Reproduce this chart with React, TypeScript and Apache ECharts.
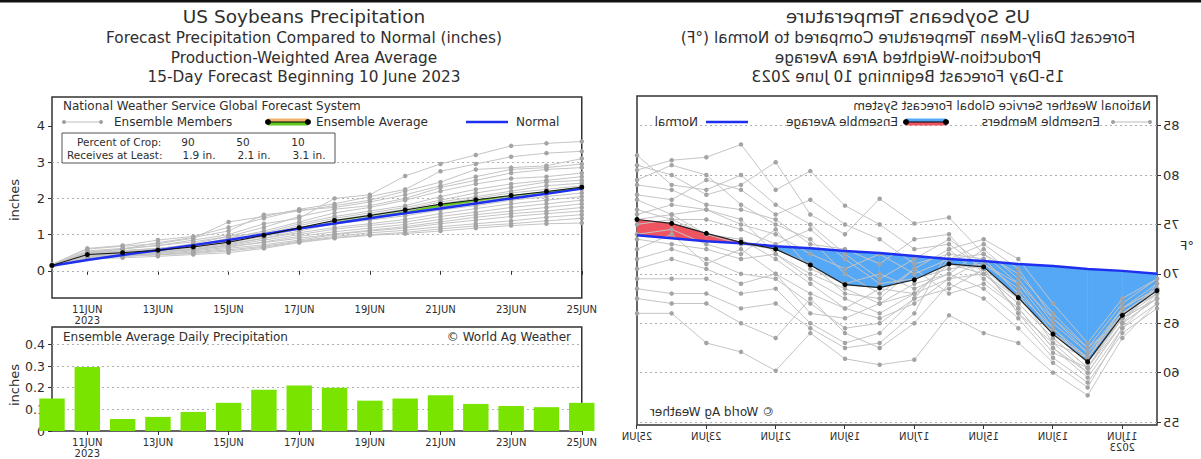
import React, { useEffect, useRef } from "react";
import * as echarts from "echarts";

const FONT = "DejaVu Sans, sans-serif";

const DAYS = ["10JUN", "11JUN", "12JUN", "13JUN", "14JUN", "15JUN", "16JUN", "17JUN", "18JUN", "19JUN", "20JUN", "21JUN", "22JUN", "23JUN", "24JUN", "25JUN"];
const YEAR = "2023";

// ---------- Precipitation (left panel) ----------
const PRECIP_DAILY = [0.15, 0.295, 0.055, 0.065, 0.088, 0.13, 0.19, 0.21, 0.2, 0.14, 0.15, 0.165, 0.125, 0.115, 0.11, 0.13];
const PRECIP_AVG = [0.15, 0.45, 0.5, 0.57, 0.66, 0.79, 0.98, 1.19, 1.39, 1.53, 1.68, 1.84, 1.96, 2.08, 2.19, 2.31];
const PRECIP_NORMAL = [0.14, 0.3, 0.44, 0.57, 0.71, 0.85, 1.01, 1.17, 1.31, 1.45, 1.59, 1.72, 1.86, 2.0, 2.13, 2.27];
const PRECIP_MEMBERS = [
  [0.15, 0.55, 0.62, 0.7, 0.85, 1.0, 1.3, 1.45, 2.0, 2.1, 2.62, 2.95, 3.2, 3.45, 3.52, 3.57],
  [0.16, 0.6, 0.68, 0.75, 0.9, 1.35, 1.5, 1.7, 1.85, 2.05, 2.25, 2.75, 2.95, 3.15, 3.25, 3.3],
  [0.14, 0.5, 0.6, 0.78, 0.92, 1.1, 1.55, 1.65, 1.8, 1.95, 2.2, 2.45, 2.8, 2.85, 2.9, 3.1],
  [0.18, 0.62, 0.7, 0.85, 0.95, 1.2, 1.45, 1.68, 1.75, 1.9, 2.1, 2.35, 2.6, 2.8, 2.85, 2.95],
  [0.13, 0.45, 0.52, 0.6, 0.75, 0.95, 1.2, 1.5, 1.7, 1.8, 2.0, 2.3, 2.5, 2.7, 2.8, 2.85],
  [0.15, 0.48, 0.55, 0.62, 0.7, 0.9, 1.1, 1.35, 1.6, 1.75, 1.95, 2.2, 2.4, 2.55, 2.6, 2.7],
  [0.16, 0.52, 0.6, 0.7, 0.8, 0.95, 1.05, 1.3, 1.5, 1.65, 1.8, 2.05, 2.25, 2.4, 2.5, 2.6],
  [0.14, 0.42, 0.48, 0.55, 0.65, 0.8, 1.0, 1.25, 1.45, 1.6, 1.75, 1.95, 2.15, 2.3, 2.45, 2.5],
  [0.15, 0.4, 0.5, 0.58, 0.68, 0.82, 0.95, 1.15, 1.4, 1.55, 1.7, 1.9, 2.05, 2.2, 2.35, 2.42],
  [0.17, 0.5, 0.56, 0.62, 0.72, 0.85, 1.0, 1.2, 1.35, 1.5, 1.65, 1.85, 2.0, 2.15, 2.25, 2.35],
  [0.13, 0.38, 0.45, 0.52, 0.6, 0.72, 0.9, 1.1, 1.3, 1.45, 1.6, 1.75, 1.9, 2.05, 2.15, 2.25],
  [0.15, 0.46, 0.52, 0.58, 0.66, 0.78, 0.95, 1.15, 1.3, 1.4, 1.52, 1.68, 1.8, 1.95, 2.05, 2.15],
  [0.14, 0.44, 0.5, 0.55, 0.62, 0.75, 0.9, 1.05, 1.2, 1.3, 1.42, 1.58, 1.72, 1.85, 1.95, 2.05],
  [0.16, 0.4, 0.45, 0.5, 0.58, 0.7, 0.85, 1.0, 1.15, 1.25, 1.35, 1.5, 1.62, 1.75, 1.85, 1.95],
  [0.12, 0.36, 0.42, 0.48, 0.55, 0.65, 0.8, 0.95, 1.08, 1.18, 1.28, 1.42, 1.55, 1.65, 1.75, 1.85],
  [0.15, 0.42, 0.47, 0.52, 0.58, 0.68, 0.78, 0.9, 1.02, 1.12, 1.22, 1.35, 1.48, 1.58, 1.65, 1.75],
  [0.14, 0.35, 0.4, 0.45, 0.52, 0.62, 0.72, 0.85, 1.0, 1.1, 1.18, 1.3, 1.4, 1.5, 1.58, 1.65],
  [0.13, 0.38, 0.42, 0.46, 0.5, 0.58, 0.68, 0.82, 0.95, 1.05, 1.12, 1.22, 1.3, 1.38, 1.48, 1.55],
  [0.16, 0.36, 0.4, 0.44, 0.48, 0.55, 0.65, 0.8, 0.92, 1.0, 1.06, 1.16, 1.24, 1.3, 1.38, 1.45],
  [0.15, 0.33, 0.36, 0.4, 0.45, 0.5, 0.62, 0.78, 0.9, 0.98, 1.03, 1.1, 1.18, 1.25, 1.3, 1.32],
];
const PRECIP_TICKS = [0, 1, 2, 3, 4];
const PRECIP_GRID = [0, 1, 2, 3];
const DAILY_TICKS = [0, 0.1, 0.2, 0.3, 0.4];
const DAILY_GRID = [0.1, 0.2, 0.3, 0.4];
const CROP_PERCENT = ["90", "50", "10"];
const CROP_AMOUNT = ["1.9 in.", "2.1 in.", "3.1 in."];

// ---------- Temperature (right panel) ----------
const TEMP_AVG = [68.3, 65.8, 61.1, 63.9, 67.6, 70.7, 71.0, 69.4, 68.6, 68.9, 70.9, 72.5, 73.2, 74.1, 75.1, 75.5];
const TEMP_NORMAL = [70.0, 70.3, 70.5, 70.8, 71.0, 71.3, 71.5, 71.8, 72.1, 72.3, 72.6, 72.8, 73.1, 73.3, 73.6, 73.9];
const TEMP_MEMBERS = [
  [68.5, 66.0, 60.5, 62.0, 66.0, 70.5, 73.0, 72.5, 75.0, 76.9, 80.4, 78.5, 83.1, 81.8, 81.5, 80.5],
  [69.0, 66.5, 61.5, 64.5, 69.0, 72.0, 75.7, 75.1, 77.6, 74.0, 76.0, 81.3, 79.0, 78.0, 80.0, 81.0],
  [67.5, 65.0, 60.0, 63.0, 68.0, 71.5, 72.0, 71.0, 73.5, 75.0, 77.5, 76.0, 78.5, 79.5, 77.5, 78.0],
  [68.0, 65.5, 61.0, 64.0, 67.5, 70.0, 74.0, 73.5, 71.0, 72.5, 73.0, 75.5, 76.5, 77.0, 78.5, 79.0],
  [69.5, 67.0, 62.5, 65.5, 70.5, 73.0, 71.5, 70.0, 72.0, 70.5, 72.0, 74.0, 75.0, 76.5, 76.0, 77.5],
  [68.0, 66.0, 61.5, 64.0, 68.5, 71.0, 70.5, 69.5, 69.0, 71.5, 74.5, 73.0, 74.5, 75.5, 75.5, 76.5],
  [67.0, 64.5, 59.5, 62.5, 66.5, 69.5, 72.5, 70.5, 67.5, 68.0, 71.0, 72.5, 73.0, 74.0, 75.5, 75.0],
  [68.5, 66.5, 62.0, 65.0, 69.5, 72.5, 70.0, 68.5, 70.0, 69.0, 70.5, 74.5, 72.0, 73.0, 74.5, 74.0],
  [69.0, 65.0, 60.5, 63.5, 67.0, 70.0, 71.0, 68.0, 66.0, 67.5, 69.5, 72.0, 71.5, 72.5, 73.0, 73.5],
  [67.5, 65.5, 61.0, 64.5, 68.0, 71.5, 69.5, 68.0, 68.5, 66.5, 68.0, 70.0, 72.5, 71.0, 74.0, 72.5],
  [68.0, 66.0, 61.5, 63.0, 66.0, 70.5, 68.5, 67.5, 65.0, 64.5, 67.0, 69.5, 70.0, 71.5, 72.5, 71.5],
  [66.5, 64.0, 59.0, 61.5, 65.5, 68.5, 70.0, 69.0, 67.0, 65.5, 66.0, 70.0, 69.0, 70.5, 71.5, 70.5],
  [68.5, 65.5, 62.5, 66.0, 70.0, 72.0, 71.5, 67.5, 64.0, 63.0, 65.0, 68.5, 68.0, 69.5, 69.5, 69.5],
  [69.5, 67.5, 63.0, 67.0, 71.5, 73.5, 72.5, 66.0, 63.0, 62.5, 64.5, 67.0, 66.5, 68.0, 68.0, 68.5],
  [68.0, 64.5, 58.5, 61.0, 64.5, 67.5, 69.0, 65.0, 62.5, 64.0, 67.5, 63.5, 65.0, 67.0, 67.0, 67.5],
  [67.0, 63.5, 57.7, 60.0, 63.0, 64.0, 65.8, 61.3, 60.8, 61.4, 64.0, 60.2, 62.1, 63.0, 66.0, 66.0],
  [68.5, 66.0, 62.0, 65.5, 69.0, 71.0, 73.5, 71.5, 69.5, 72.0, 75.0, 77.0, 80.0, 78.5, 79.0, 82.0],
  [67.5, 65.0, 60.0, 62.5, 66.5, 69.0, 68.0, 70.5, 68.0, 70.0, 73.5, 75.0, 77.0, 80.0, 81.0, 79.5],
  [68.5, 66.5, 61.5, 64.0, 67.5, 70.5, 71.0, 68.0, 67.0, 68.5, 70.0, 72.0, 75.5, 76.5, 77.0, 76.0],
  [67.5, 65.5, 60.5, 63.5, 67.0, 70.0, 69.5, 67.0, 65.5, 66.5, 69.0, 71.5, 73.5, 74.0, 76.0, 75.5],
];
const TEMP_TICKS = [55, 60, 65, 70, 75, 80, 85];

// ---------- helpers ----------
const TXT = "#2e2e2e";
const dayLabel = (v: string) => (v === "11JUN" ? `11JUN\n${YEAR}` : v);
const oddIdx = (i: number) => i % 2 === 1;

function xCat(gridIndex: number) {
  return {
    type: "category",
    gridIndex,
    data: DAYS,
    boundaryGap: false,
    axisLine: { show: false },
    axisTick: { show: true, interval: oddIdx, length: 4, lineStyle: { color: "#333" } },
    axisLabel: { interval: oddIdx, formatter: dayLabel, fontSize: 10, color: TXT, fontFamily: FONT, margin: 6, lineHeight: 11 },
    splitLine: { show: false },
  };
}

function yVal(gridIndex: number, min: number, max: number, ticks: number[], opts: any = {}) {
  return {
    type: "value",
    gridIndex,
    min,
    max,
    axisLine: { show: false },
    axisTick: { show: true, length: 4, customValues: ticks, lineStyle: { color: "#333" } },
    axisLabel: { customValues: ticks, fontSize: 13, color: TXT, fontFamily: FONT, margin: 7, ...opts },
    splitLine: { show: false },
  };
}

function gridLines(values: number[], xi: number, yi: number) {
  return {
    type: "line",
    xAxisIndex: xi,
    yAxisIndex: yi,
    data: DAYS.map(() => null),
    silent: true,
    z: 1,
    markLine: {
      silent: true,
      symbol: "none",
      z: 1,
      label: { show: false },
      lineStyle: { type: [2, 3], color: "#b0b0b0", width: 1 },
      data: values.map((v) => ({ yAxis: v })),
    },
  };
}

function fillBetween(avg: number[], normal: number[], upColor: string, downColor: string, xi: number, yi: number) {
  return {
    type: "custom",
    xAxisIndex: xi,
    yAxisIndex: yi,
    silent: true,
    z: 1,
    data: [0],
    renderItem: (_p: any, api: any) => {
      const children: any[] = [];
      for (let i = 0; i < avg.length - 1; i++) {
        const a0 = api.coord([i, avg[i]]);
        const a1 = api.coord([i + 1, avg[i + 1]]);
        const n0 = api.coord([i, normal[i]]);
        const n1 = api.coord([i + 1, normal[i + 1]]);
        const d0 = avg[i] - normal[i];
        const d1 = avg[i + 1] - normal[i + 1];
        if (d0 * d1 >= 0) {
          const c = d0 + d1 >= 0 ? upColor : downColor;
          children.push({ type: "polygon", shape: { points: [a0, a1, n1, n0] }, style: { fill: c, stroke: c, lineWidth: 0.5 } });
        } else {
          const t = d0 / (d0 - d1);
          const c = [a0[0] + t * (a1[0] - a0[0]), a0[1] + t * (a1[1] - a0[1])];
          const c0 = d0 > 0 ? upColor : downColor;
          const c1 = d1 > 0 ? upColor : downColor;
          children.push({ type: "polygon", shape: { points: [a0, c, n0] }, style: { fill: c0, stroke: c0, lineWidth: 0.5 } });
          children.push({ type: "polygon", shape: { points: [c, a1, n1] }, style: { fill: c1, stroke: c1, lineWidth: 0.5 } });
        }
      }
      return { type: "group", children };
    },
  };
}

function memberSeries(members: number[][], xi: number, yi: number) {
  return members.map((m) => ({
    type: "line",
    xAxisIndex: xi,
    yAxisIndex: yi,
    data: m,
    symbol: "circle",
    symbolSize: 4.5,
    showSymbol: true,
    silent: true,
    z: 2,
    lineStyle: { color: "#c4c4c4", width: 1 },
    itemStyle: { color: "#a4a4a4" },
  }));
}

function txt(text: string, x: number, y: number, size: number, align = "left", extra: any = {}) {
  return {
    type: "text",
    x,
    y,
    silent: true,
    z: 50,
    ...extra,
    style: { text, font: `${size}px ${FONT}`, fill: TXT, align, verticalAlign: "middle" },
  };
}

function legendGraphics(x0: number, swTop: string, swBottom: string) {
  return [
    txt("National Weather Service Global Forecast System", x0, 106, 12),
    { type: "line", z: 50, shape: { x1: x0, y1: 122, x2: x0 + 39, y2: 122 }, style: { stroke: "#bdbdbd", lineWidth: 1 } },
    { type: "circle", z: 51, shape: { cx: x0 + 1, cy: 122, r: 2 }, style: { fill: "#a0a0a0" } },
    { type: "circle", z: 51, shape: { cx: x0 + 38, cy: 122, r: 2 }, style: { fill: "#a0a0a0" } },
    txt("Ensemble Members", x0 + 51, 122, 12),
    { type: "rect", z: 50, shape: { x: x0 + 205, y: 118.5, width: 40, height: 3.5 }, style: { fill: swTop } },
    { type: "rect", z: 50, shape: { x: x0 + 205, y: 122, width: 40, height: 3.5 }, style: { fill: swBottom } },
    { type: "line", z: 51, shape: { x1: x0 + 205, y1: 122, x2: x0 + 245, y2: 122 }, style: { stroke: "#000", lineWidth: 1 } },
    { type: "circle", z: 52, shape: { cx: x0 + 205, cy: 122, r: 3 }, style: { fill: "#000" } },
    { type: "circle", z: 52, shape: { cx: x0 + 245, cy: 122, r: 3 }, style: { fill: "#000" } },
    txt("Ensemble Average", x0 + 253, 122, 12),
    { type: "line", z: 50, shape: { x1: x0 + 403, y1: 122, x2: x0 + 445, y2: 122 }, style: { stroke: "#1f2ff0", lineWidth: 2.5 } },
    txt("Normal", x0 + 453, 122, 12),
  ];
}

function titleGraphics(cx: number, lines: string[]) {
  return [
    { type: "rect", z: 60, shape: { x: 0, y: 0, width: 601, height: 2.5 }, style: { fill: "#111" } },
    txt(lines[0], cx, 16, 18.5, "center"),
    txt(lines[1], cx, 38, 15.3, "center"),
    txt(lines[2], cx, 58, 15.3, "center"),
    txt(lines[3], cx, 77, 15.3, "center"),
  ];
}

function leftOption(): any {
  const G1 = { left: 52, top: 97, width: 531, height: 201 };
  const G2 = { left: 52, top: 327, width: 531, height: 107 };
  const gridStyle = { show: true, borderColor: "#333", borderWidth: 1.5, backgroundColor: "transparent" };
  return {
    animation: false,
    textStyle: { fontFamily: FONT },
    grid: [{ ...G1, ...gridStyle }, { ...G2, ...gridStyle }],
    xAxis: [xCat(0), xCat(1)],
    yAxis: [yVal(0, -0.75, 4.8, PRECIP_TICKS), yVal(1, 0, 0.48, DAILY_TICKS, { fontSize: 12.5 })],
    series: [
      gridLines(PRECIP_GRID, 0, 0),
      fillBetween(PRECIP_AVG, PRECIP_NORMAL, "#5fc81e", "#f0b46a", 0, 0),
      ...memberSeries(PRECIP_MEMBERS, 0, 0),
      {
        type: "line", xAxisIndex: 0, yAxisIndex: 0, data: PRECIP_NORMAL, symbol: "none", silent: true, z: 4,
        lineStyle: { color: "#1f2ff0", width: 2.5 },
      },
      {
        type: "line", xAxisIndex: 0, yAxisIndex: 0, data: PRECIP_AVG, symbol: "circle", symbolSize: 5, silent: true, z: 5,
        lineStyle: { color: "#111", width: 1 }, itemStyle: { color: "#000" },
      },
      gridLines(DAILY_GRID, 1, 1),
      {
        type: "bar", xAxisIndex: 1, yAxisIndex: 1, data: PRECIP_DAILY, barWidth: "72%", silent: true, z: 3,
        itemStyle: { color: "#78e400" },
      },
    ],
    graphic: [
      ...titleGraphics(304, [
        "US Soybeans Precipitation",
        "Forecast Precipitation Compared to Normal (inches)",
        "Production-Weighted Area Average",
        "15-Day Forecast Beginning 10 June 2023",
      ]),
      ...legendGraphics(63, "#f0b46a", "#5fc81e"),
      { type: "rect", z: 50, shape: { x: 62, y: 133, width: 273, height: 30 }, style: { fill: "#fff", stroke: "#555", lineWidth: 1 } },
      txt("Percent of Crop:", 77, 141.5, 10.5, "left", { z: 55 }),
      txt("Receives at Least:", 67, 154.5, 10.5, "left", { z: 55 }),
      ...CROP_PERCENT.map((p, i) => txt(p, 188 + i * 55, 141.5, 10.5, "center", { z: 55 })),
      ...CROP_AMOUNT.map((a, i) => txt(a, 199 + i * 55, 154.5, 10.5, "center", { z: 55 })),
      txt("inches", 14, 200, 13, "center", { rotation: Math.PI / 2 }),
      txt("inches", 14, 385, 13, "center", { rotation: Math.PI / 2 }),
      txt("Ensemble Average Daily Precipitation", 63, 337, 12),
      txt("© World Ag Weather", 571, 337, 12, "right"),
    ],
  };
}

function rightOption(): any {
  return {
    animation: false,
    textStyle: { fontFamily: FONT },
    grid: { left: 44, top: 96, width: 520, height: 329, show: true, borderColor: "#333", borderWidth: 1.5, backgroundColor: "transparent" },
    xAxis: xCat(0),
    yAxis: yVal(0, 54.7, 88, TEMP_TICKS, { margin: 6 }),
    series: [
      gridLines(TEMP_TICKS, 0, 0),
      fillBetween(TEMP_AVG, TEMP_NORMAL, "#ee5560", "#55a8f6", 0, 0),
      ...memberSeries(TEMP_MEMBERS, 0, 0),
      {
        type: "line", data: TEMP_NORMAL, symbol: "none", silent: true, z: 4,
        lineStyle: { color: "#1f2ff0", width: 2.5 },
      },
      {
        type: "line", data: TEMP_AVG, symbol: "circle", symbolSize: 5, silent: true, z: 5,
        lineStyle: { color: "#222", width: 1.2 }, itemStyle: { color: "#000" },
      },
    ],
    graphic: [
      ...titleGraphics(293, [
        "US Soybeans Temperature",
        "Forecast Daily-Mean Temperature Compared to Normal (°F)",
        "Production-Weighted Area Average",
        "15-Day Forecast Beginning 10 June 2023",
      ]),
      ...legendGraphics(50, "#55a8f6", "#ee5560"),
      txt("°F", 14, 245, 13, "center"),
      txt("© World Ag Weather", 551, 412, 12, "right"),
    ],
  };
}

export default function App() {
  const leftRef = useRef<HTMLDivElement>(null);
  const rightRef = useRef<HTMLDivElement>(null);

  useEffect(() => {
    const l = echarts.init(leftRef.current!, undefined, { renderer: "svg" });
    const r = echarts.init(rightRef.current!, undefined, { renderer: "svg" });
    l.setOption(leftOption());
    r.setOption(rightOption());
    return () => {
      l.dispose();
      r.dispose();
    };
  }, []);

  return (
    <div style={{ position: "fixed", left: 0, top: 0, width: 1201, height: 459, background: "#fff", overflow: "hidden" }}>
      <div ref={leftRef} style={{ position: "absolute", left: 0, top: 0, width: 600, height: 459 }} />
      <div ref={rightRef} style={{ position: "absolute", left: 600, top: 0, width: 601, height: 459, transform: "scaleX(-1)" }} />
    </div>
  );
}
